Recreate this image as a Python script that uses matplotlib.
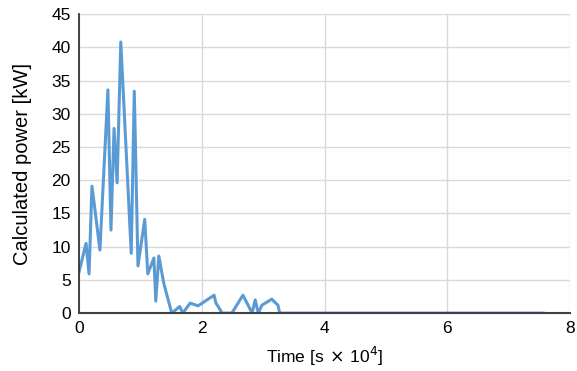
import matplotlib
matplotlib.use("Agg")
import matplotlib.pyplot as plt

plt.rcParams["font.family"] = ["Liberation Sans", "DejaVu Sans"]

# time in units of 1e4 s, power in kW
time = [0.0, 0.114, 0.163, 0.21, 0.26, 0.34, 0.47, 0.52, 0.57, 0.62, 0.68,
        0.85, 0.90, 0.96, 1.07, 1.12, 1.22, 1.25, 1.30, 1.38, 1.51, 1.64,
        1.69, 1.81, 1.94, 2.20, 2.23, 2.26, 2.33, 2.49, 2.67, 2.82, 2.87,
        2.92, 2.98, 3.14, 3.24, 3.27, 7.56]
power = [6.2, 10.5, 5.9, 19.1, 15.5, 9.5, 33.6, 12.5, 27.8, 19.6, 40.8,
         9.0, 33.4, 7.1, 14.1, 5.9, 8.3, 1.8, 8.6, 4.5, 0.0, 1.0,
         0.0, 1.5, 1.1, 2.7, 1.5, 1.1, 0.0, 0.0, 2.7, 0.0, 2.0,
         0.0, 1.2, 2.1, 1.2, 0.0, 0.0]

x_ticks = [0, 2, 4, 6, 8]
y_ticks = [0, 5, 10, 15, 20, 25, 30, 35, 40, 45]

fig = plt.figure(figsize=(5.77, 3.71), dpi=100)
ax = fig.add_axes([0.137, 0.156, 0.851, 0.806])

ax.plot(time, power, color="#5b9bd5", linewidth=2.2, solid_joinstyle="round")

ax.set_xlim(0, 8)
ax.set_ylim(0, 45)
ax.set_xticks(x_ticks)
ax.set_yticks(y_ticks)
ax.grid(True, color="#d9d9d9", linewidth=1.0)
ax.set_axisbelow(True)
ax.tick_params(length=0, labelsize=12.5, pad=6, colors="#000000")

for side in ("top", "right"):
    ax.spines[side].set_visible(False)
ax.spines["left"].set_color("#262626")
ax.spines["bottom"].set_color("#404040")
ax.spines["left"].set_linewidth(1.2)
ax.spines["bottom"].set_linewidth(1.5)

ax.set_xlabel(r"Time [s$\,\times\,$10$^4$]", fontsize=12.5, labelpad=6)
ax.set_ylabel("Calculated power [kW]", fontsize=14.5, labelpad=14)

fig.savefig("out.png", dpi=100)
